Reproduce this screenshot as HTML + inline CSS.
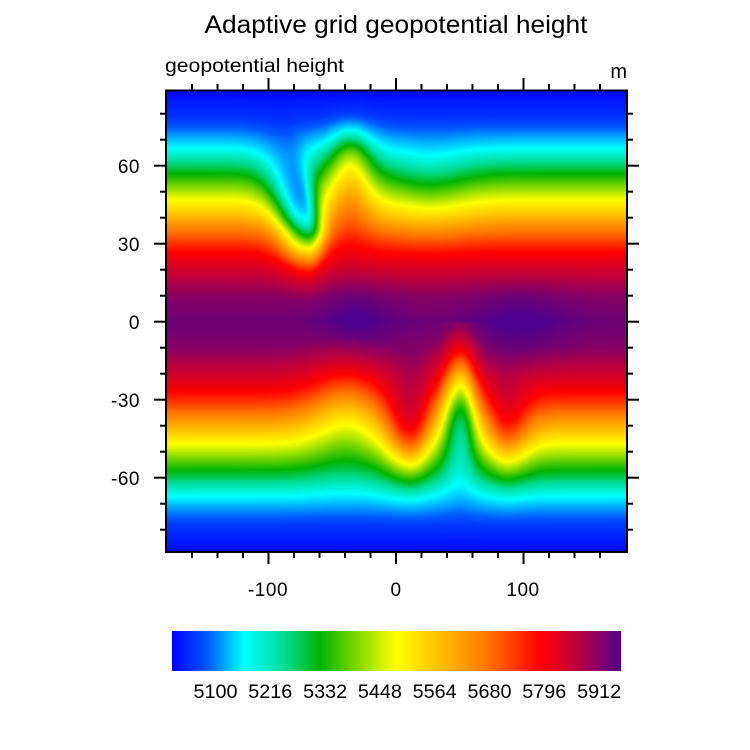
<!DOCTYPE html>
<html><head><meta charset="utf-8"><style>
html,body{margin:0;padding:0;background:#fff;}
#wrap{position:relative;width:750px;height:750px;overflow:hidden;font-family:"Liberation Sans",Arial,sans-serif;}
canvas{position:absolute;left:166px;top:90px;}
svg{position:absolute;left:0;top:0;}
</style></head><body><div id="wrap">
<canvas id="c" width="461" height="462"></canvas>
<svg width="750" height="750" xmlns="http://www.w3.org/2000/svg" font-family="Liberation Sans, Arial, sans-serif">
<defs><linearGradient id="g" x1="0" x2="1" y1="0" y2="0">
<stop offset="0" stop-color="rgb(0,0,255)"/><stop offset="0.08" stop-color="rgb(0,90,255)"/>
<stop offset="0.16" stop-color="rgb(0,255,255)"/><stop offset="0.25" stop-color="rgb(0,220,150)"/>
<stop offset="0.33" stop-color="rgb(0,180,0)"/><stop offset="0.42" stop-color="rgb(140,220,0)"/>
<stop offset="0.5" stop-color="rgb(255,255,0)"/><stop offset="0.6" stop-color="rgb(255,190,0)"/>
<stop offset="0.7" stop-color="rgb(255,120,0)"/><stop offset="0.82" stop-color="rgb(255,0,0)"/>
<stop offset="0.9" stop-color="rgb(190,0,60)"/><stop offset="1" stop-color="rgb(80,0,140)"/>
</linearGradient></defs>
<text x="396" y="33" font-size="25" text-anchor="middle" textLength="383" lengthAdjust="spacingAndGlyphs">Adaptive grid geopotential height</text>
<text x="165" y="72" font-size="19" textLength="179" lengthAdjust="spacingAndGlyphs">geopotential height</text>
<text x="627" y="78" font-size="20" text-anchor="end">m</text>
<rect x="166" y="90.5" width="461" height="461.5" fill="none" stroke="#000" stroke-width="2"/>
<g id="ticks" stroke="#000" stroke-width="2"></g>
<g font-size="19" text-anchor="end" letter-spacing="0.5">
<text x="140" y="173">60</text><text x="140" y="251">30</text><text x="140" y="329">0</text>
<text x="140" y="407">-30</text><text x="140" y="485">-60</text></g>
<g font-size="19" text-anchor="middle" letter-spacing="0.5">
<text x="268" y="596">-100</text><text x="396" y="596">0</text><text x="523" y="596">100</text></g>
<rect x="172" y="631" width="449" height="40" fill="url(#g)"/>
<g font-size="19" text-anchor="middle" id="cbl"></g>
</svg>
<script>
(function(){
var ns="http://www.w3.org/2000/svg";
var tg=document.getElementById('ticks');
function L(x1,y1,x2,y2){var l=document.createElementNS(ns,'line');l.setAttribute('x1',x1);l.setAttribute('y1',y1);l.setAttribute('x2',x2);l.setAttribute('y2',y2);tg.appendChild(l);}
for(var k=0;k<18;k++){var x=192+25.5*k;if(x>625)break;var maj=((k-3)%5===0);var len=maj?12:6;L(x,552,x,552+len);L(x,90,x,90-len);}
for(var k=-9;k<=9;k++){var y=321.7-26*k;if(y<92||y>550)continue;var maj=(k%3===0);var len=maj?12:6;L(166,y,166-len,y);L(627,y,627+len,y);}
var cb=document.getElementById('cbl');var labs=[5100,5216,5332,5448,5564,5680,5796,5912];
for(var i=0;i<8;i++){var t=document.createElementNS(ns,'text');t.setAttribute('x',215.5+54.8*i);t.setAttribute('y',698);t.setAttribute('textLength','44');t.setAttribute('lengthAdjust','spacingAndGlyphs');t.textContent=labs[i];cb.appendChild(t);}
var stops=[[0,0,0,255],[0.08,0,90,255],[0.16,0,255,255],[0.25,0,220,150],[0.33,0,180,0],[0.42,140,220,0],[0.5,255,255,0],[0.6,255,190,0],[0.7,255,120,0],[0.82,255,0,0],[0.9,190,0,60],[1,80,0,140]];
function cmap(t){t=Math.max(0,Math.min(1,t));for(var i=1;i<stops.length;i++){if(t<=stops[i][0]){var a=stops[i-1],b=stops[i],f=(t-a[0])/(b[0]-a[0]);return [a[1]+(b[1]-a[1])*f,a[2]+(b[2]-a[2])*f,a[3]+(b[3]-a[3])*f];}}return [80,0,140];}
var prof=[[0,0.975],[10,0.95],[20,0.88],[27,0.82],[37,0.67],[47,0.5],[57,0.33],[67,0.16],[78,0.05],[90,0]];
function P(p){p=Math.max(0,Math.min(90,p));for(var i=1;i<prof.length;i++){if(p<=prof[i][0]){var a=prof[i-1],b=prof[i],f=(p-a[0])/(b[0]-a[0]);return a[1]+(b[1]-a[1])*f;}}return 0;}
function G(x,c,s){var u=(x-c)/s;return Math.exp(-u*u);}
function AG(x,c,s1,s2){var u=(x-c)/(x<c?s1:s2);return Math.exp(-u*u);}
function AW(a,c,s1,s2){var u=(a-c)/(a<c?s1:s2);return Math.exp(-u*u);}
var cv=document.getElementById('c'),ctx=cv.getContext('2d');var W=cv.width,H=cv.height;var img=ctx.createImageData(W,H);
for(var py=0;py<H;py++){var Y=90+py;var lat=(321.7-Y)/2.6;var al=Math.abs(lat);
 var wnt=AW(al,40,19,22), wnr=AW(al,62,25,15), wnm=AW(al,55,25,15);
 var wsp=AW(al,32,35,24), wsn=AW(al,40,20,19);
 var ctr=308-Math.max(0,al-35)*0.6;
 for(var px=0;px<W;px++){var X=166+px;var D,extra=0;
  if(lat>=0){
   D=27*wnt*AG(X,ctr,28,16)-13*wnr*G(X,350,22)+4*wnm*G(X,430,40);}
  else{
   D=wsp*(8*G(X,345,38)+23*AG(X,460,19,17))-wsn*(15*AG(X,410,24,17)+11*AG(X,507,18,22));}
  var t=P(al+D);
  if(al<22){t+=0.04*(1-al/22)*(G(X,355,35)+G(X,520,45));}
  var c=cmap(t);var o=(py*W+px)*4;img.data[o]=c[0];img.data[o+1]=c[1];img.data[o+2]=c[2];img.data[o+3]=255;}}
ctx.putImageData(img,0,0);
})();
</script>
</div></body></html>
